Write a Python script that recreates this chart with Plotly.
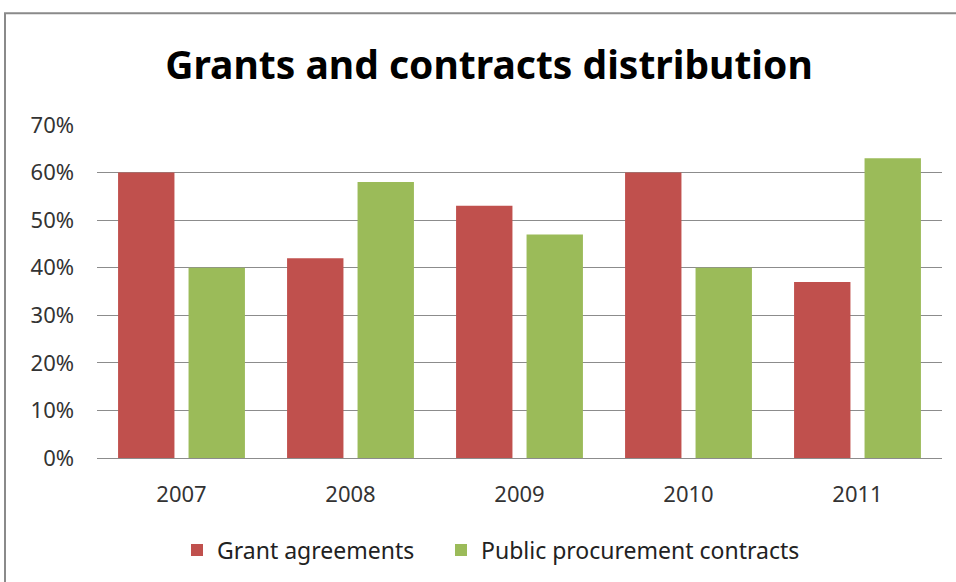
import plotly.graph_objects as go

years = ["2007", "2008", "2009", "2010", "2011"]
grant_agreements = [60, 42, 53, 60, 37]
public_procurement = [40, 58, 47, 40, 63]
y_ticks = [0, 10, 20, 30, 40, 50, 60, 70]
y_labels = [f"{v}%" for v in y_ticks]

FONT = "Noto Sans, Liberation Sans, sans-serif"

fig = go.Figure()
fig.add_trace(go.Bar(name="Grant agreements", x=years, y=grant_agreements,
                     marker=dict(color="#C0504D", line=dict(width=0)), legend="legend"))
fig.add_trace(go.Bar(name="Public procurement contracts", x=years, y=public_procurement,
                     marker=dict(color="#9BBB59", line=dict(width=0)), legend="legend2"))

W, H = 956, 582
L, R, T, B = 97, 14, 125, 123
pw, ph = W - L - R, H - T - B

legend_common = dict(orientation="h", xanchor="left", yanchor="middle",
                     y=-(550 - (H - B)) / ph,
                     font=dict(family=FONT, size=23, color="#222222"),
                     itemwidth=30, bgcolor="rgba(0,0,0,0)")

fig.update_layout(
    width=W, height=H,
    margin=dict(l=L, r=R, t=T, b=B),
    paper_bgcolor="white", plot_bgcolor="white",
    barmode="group", bargap=0.166, bargroupgap=0.2,
    title=dict(text="<b>Grants and contracts distribution</b>", x=489 / W, xanchor="center",
               y=1 - 65 / H, yanchor="middle",
               font=dict(family=FONT, size=39, color="black")),
    font=dict(family=FONT, size=21, color="#333333"),
    showlegend=True,
    legend=dict(x=(177 - L) / pw, **legend_common),
    legend2=dict(x=(441 - L) / pw, **legend_common),
    yaxis=dict(range=[0, 70], tickvals=y_ticks, ticktext=y_labels,
               showgrid=True, gridcolor="#8c8c8c", gridwidth=1.3,
               zeroline=False, showline=False, ticks="", ticklabelstandoff=22,
               tickfont=dict(family=FONT, size=22, color="#333333"), fixedrange=True),
    xaxis=dict(showline=True, linecolor="#8c8c8c", linewidth=1.3, ticks="",
               ticklabelstandoff=16,
               tickfont=dict(family=FONT, size=22, color="#333333"), fixedrange=True),
    shapes=[dict(type="rect", xref="paper", yref="paper",
                 x0=(5 - L) / pw, x1=(W + 20 - L) / pw,
                 y0=-(H + 20 - (H - B)) / ph, y1=(H - B - 13) / ph,
                 line=dict(color="#8a8a8a", width=2), fillcolor="rgba(0,0,0,0)", layer="above")],
)

fig.write_html("out.html", config={"displayModeBar": False},
               post_script="document.body.style.margin='0px';document.body.style.overflow='hidden';")
